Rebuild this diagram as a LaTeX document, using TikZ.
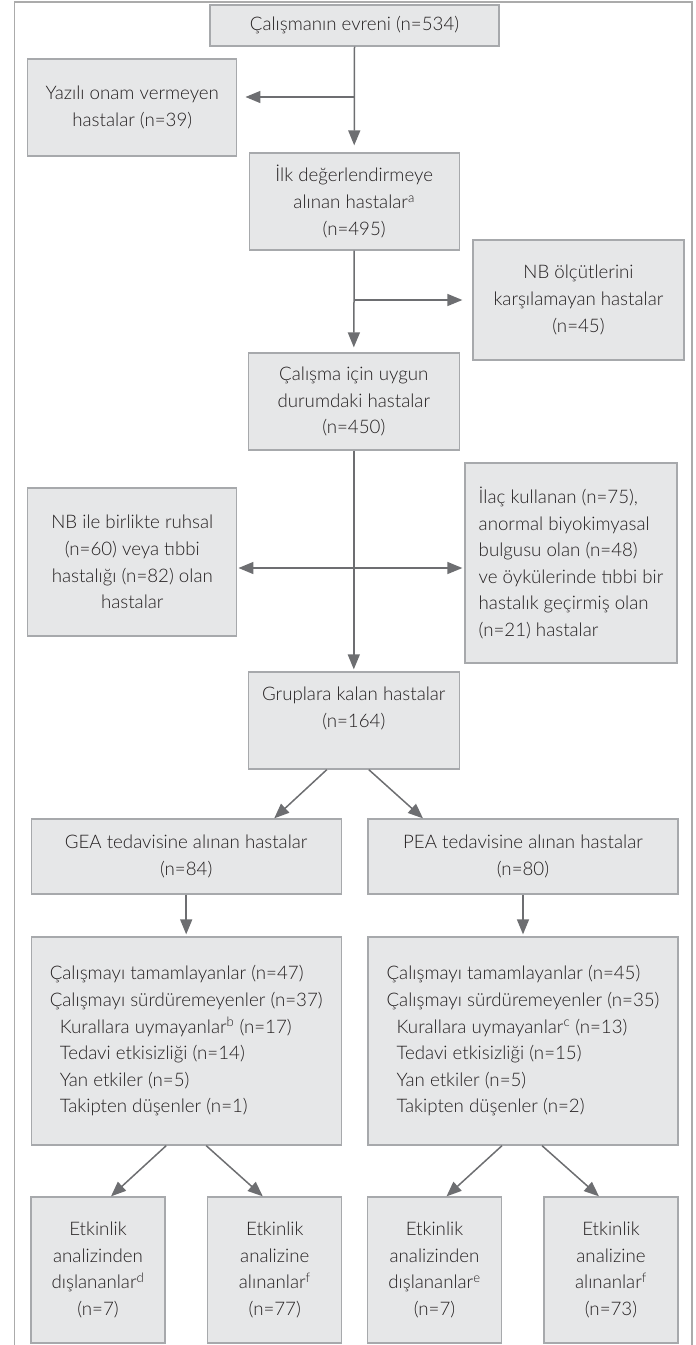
\documentclass[tikz,border=0pt]{standalone}
\usepackage{fontspec}
\setmainfont{Lato Light}
\usetikzlibrary{arrows.meta}

\definecolor{boxfill}{HTML}{E6E7E8}
\definecolor{boxline}{HTML}{A7A9AC}
\definecolor{arrowgray}{HTML}{6D6E71}
\definecolor{framegray}{HTML}{ABABAB}
\definecolor{textblack}{HTML}{231F20}

\tikzset{
    box/.style={draw=boxline, fill=boxfill, line width=1.3pt, inner sep=0pt,
        align=center, text=textblack, font=\fontsize{18.7}{26.6}\selectfont},
    listbox/.style={box, align=left},
    arr/.style={draw=arrowgray, line width=1.5pt, -{Triangle[length=15pt,width=12pt]}},
    arrboth/.style={draw=arrowgray, line width=1.5pt,
        {Triangle[length=15pt,width=12pt]}-{Triangle[length=15pt,width=12pt]}}
}

\begin{document}
\begin{tikzpicture}[x=1pt, y=-1pt]
    \useasboundingbox (0,0) rectangle (696,1345);
    % Outer frame (open at the bottom)
    \draw[framegray, line width=1.5pt] (14.5,1350) -- (14.5,2) -- (692,2) -- (692,1350);

    % Main column
    \node[box, minimum width=289pt, minimum height=41pt] (evren) at (354.5,25.5) {Çalışmanın evreni (n=534)};
    \node[box, minimum width=209pt, minimum height=97pt] (yazili) at (132.3,107.5) {Yazılı onam vermeyen\\hastalar (n=39)};
    \node[box, minimum width=210pt, minimum height=97pt] (ilk) at (354.2,201.5) {İlk değerlendirmeye\\alınan hastalar\textsuperscript{a}\\(n=495)};
    \node[box, minimum width=211pt, minimum height=120pt] (olcut) at (578.5,300) {NB ölçütlerini\\karşılamayan hastalar\\(n=45)};
    \node[box, minimum width=211pt, minimum height=97pt] (uygun) at (353.8,401.5) {Çalışma için uygun\\durumdaki hastalar\\(n=450)};
    \node[box, minimum width=209pt, minimum height=148pt] (ruhsal) at (132.3,562) {NB ile birlikte ruhsal\\(n=60) veya tıbbi\\hastalığı (n=82) olan\\hastalar};
    \node[listbox, minimum width=212pt, minimum height=200pt] (ilac) at (571,563) {İlaç kullanan (n=75),\\anormal biyokimyasal\\bulgusu olan (n=48)\\ve öykülerinde tıbbi bir\\hastalık geçirmiş olan\\(n=21) hastalar};
    \node[box, minimum width=211pt, minimum height=97pt] (gruplar) at (353.8,720.5) {Gruplara kalan hastalar\\(n=164)\\\mbox{}};

    % Treatment groups
    \node[box, minimum width=310pt, minimum height=75pt] (gea) at (186.2,856.5) {GEA tedavisine alınan hastalar\\(n=84)};
    \node[box, minimum width=310pt, minimum height=75pt] (pea) at (523,856.5) {PEA tedavisine alınan hastalar\\(n=80)};
    \node[listbox, minimum width=310pt, minimum height=208pt] (gealist) at (186.2,1041) {Çalışmayı tamamlayanlar (n=47)\\Çalışmayı sürdüremeyenler (n=37)\\\hspace*{10pt}Kurallara uymayanlar\textsuperscript{b} (n=17)\\\hspace*{10pt}Tedavi etkisizliği (n=14)\\\hspace*{10pt}Yan etkiler (n=5)\\\hspace*{10pt}Takipten düşenler (n=1)};
    \node[listbox, minimum width=310pt, minimum height=208pt] (pealist) at (523,1041) {Çalışmayı tamamlayanlar (n=45)\\Çalışmayı sürdüremeyenler (n=35)\\\hspace*{10pt}Kurallara uymayanlar\textsuperscript{c} (n=13)\\\hspace*{10pt}Tedavi etkisizliği (n=15)\\\hspace*{10pt}Yan etkiler (n=5)\\\hspace*{10pt}Takipten düşenler (n=2)};

    % Analysis boxes
    \node[box, minimum width=134pt, minimum height=146pt] (geadis) at (98,1270) {Etkinlik\\analizinden\\dışlananlar\textsuperscript{d}\\(n=7)};
    \node[box, minimum width=134pt, minimum height=146pt] (geaal) at (274.8,1270) {Etkinlik\\analizine\\alınanlar\textsuperscript{f}\\(n=77)};
    \node[box, minimum width=134pt, minimum height=146pt] (peadis) at (434.5,1270) {Etkinlik\\analizinden\\dışlananlar\textsuperscript{e}\\(n=7)};
    \node[box, minimum width=134pt, minimum height=146pt] (peaal) at (611,1270) {Etkinlik\\analizine\\alınanlar\textsuperscript{f}\\(n=73)};

    % Branch points
    \coordinate (k1) at (354.5,97);
    \coordinate (k2) at (354.5,300);
    \coordinate (k3) at (353,568);

    % Connectors
    \draw[arr, shorten >=7pt] (evren.south) -- (ilk.north);
    \draw[arr, shorten >=8pt] (k1) -- (k1 -| yazili.east);
    \draw[arr, shorten >=5pt] (ilk.south) -- (uygun.north);
    \draw[arr, shorten >=10pt] (k2) -- (olcut.west);
    \draw[arr, shorten >=2pt] (uygun.south) -- (gruplar.north);
    \draw[arrboth, shorten <=1pt, shorten >=2pt] (k3 -| ruhsal.east) -- (k3 -| ilac.west);

    \draw[arr] ([xshift=-27pt]gruplar.south) -- ([xshift=88pt]gea.north);
    \draw[arr] ([xshift=15pt]gruplar.south) -- ([xshift=-100pt]pea.north);
    \draw[arr, shorten >=2pt] (gea.south) -- (gealist.north);
    \draw[arr, shorten >=2pt] (pea.south) -- (pealist.north);

    \draw[arr] ([xshift=-20pt]gealist.south) -- ([xshift=13pt]geadis.north);
    \draw[arr] ([xshift=20pt]gealist.south) -- ([xshift=-12pt]geaal.north);
    \draw[arr] ([xshift=-21pt]pealist.south) -- ([xshift=12pt]peadis.north);
    \draw[arr] ([xshift=19pt]pealist.south) -- ([xshift=-12pt]peaal.north);
\end{tikzpicture}
\end{document}
